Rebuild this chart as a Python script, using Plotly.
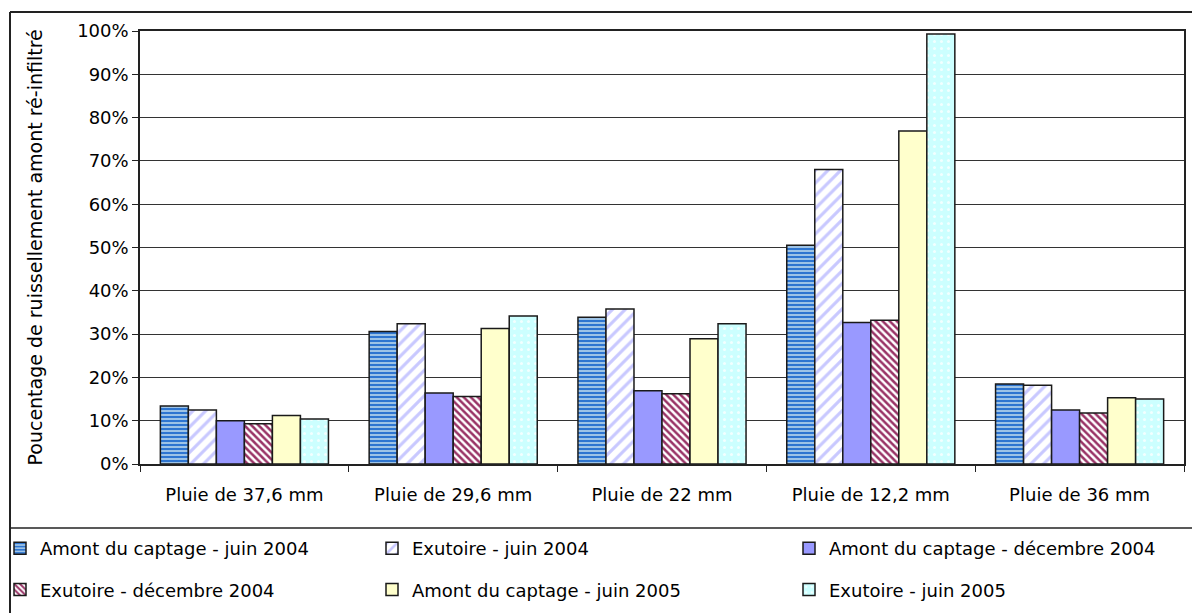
import plotly.graph_objects as go

# Rain events (x categories)
categories = ["Pluie de 37,6 mm", "Pluie de 29,6 mm", "Pluie de 22 mm",
              "Pluie de 12,2 mm", "Pluie de 36 mm"]

# Share of upstream runoff re-infiltrated (%)
amont_juin_2004 = [13.4, 30.6, 33.9, 50.5, 18.5]
exutoire_juin_2004 = [12.5, 32.4, 35.8, 68.0, 18.2]
amont_dec_2004 = [10.0, 16.4, 16.9, 32.7, 12.5]
exutoire_dec_2004 = [9.3, 15.6, 16.2, 33.2, 11.8]
amont_juin_2005 = [11.2, 31.3, 28.9, 76.9, 15.3]
exutoire_juin_2005 = [10.4, 34.2, 32.4, 99.3, 15.0]

series_names = ["Amont du captage - juin 2004", "Exutoire - juin 2004",
                "Amont du captage - décembre 2004", "Exutoire - décembre 2004",
                "Amont du captage - juin 2005", "Exutoire - juin 2005"]

y_ticks = [0, 10, 20, 30, 40, 50, 60, 70, 80, 90, 100]
y_tick_labels = ["0%", "10%", "20%", "30%", "40%", "50%",
                 "60%", "70%", "80%", "90%", "100%"]
y_title = "Poucentage de ruissellement amont ré-infiltré"

FONT = "DejaVu Sans"
W, H = 1192, 613
L, R, T, B = 140, 8, 31, 149
PW, PH = W - L - R, H - T - B

styles = [
    dict(color="#9DC3E6", pattern=dict(shape="-", fgcolor="#2E75D0", bgcolor="#9DC3E6",
                                       size=4, solidity=0.5, fillmode="replace")),
    dict(color="#FFFFFF", pattern=dict(shape="/", fgcolor="#C8C8FF", bgcolor="#FFFFFF",
                                       size=9, solidity=0.35, fillmode="replace")),
    dict(color="#9999FF"),
    dict(color="#FFFFFF", pattern=dict(shape="\\", fgcolor="#993366", bgcolor="#FFFFFF",
                                       size=5, solidity=0.5, fillmode="replace")),
    dict(color="#FFFFCC"),
    dict(color="#CCFFFF", pattern=dict(shape=".", fgcolor="#F2FFFF", bgcolor="#CCFFFF",
                                       size=7, solidity=0.15, fillmode="replace")),
]

values = [amont_juin_2004, exutoire_juin_2004, amont_dec_2004,
          exutoire_dec_2004, amont_juin_2005, exutoire_juin_2005]
legend_ids = ["legend", "legend2", "legend3", "legend", "legend2", "legend3"]

fig = go.Figure()
for i, (name, vals) in enumerate(zip(series_names, values)):
    marker = dict(line=dict(color="#1a1a1a", width=1.5), **styles[i])
    fig.add_trace(go.Bar(
        x=categories, y=vals, name=name, marker=marker,
        legend=legend_ids[i], legendgroup=f"g{i}",
    ))


def px_x(px):
    return (px - L) / PW


def px_y(py):
    return (H - B - py) / PH


legend_common = dict(
    xref="container", yref="container", xanchor="left", yanchor="top",
    orientation="v", traceorder="grouped", tracegroupgap=15,
    bgcolor="rgba(0,0,0,0)", borderwidth=0,
    font=dict(family=FONT, size=18, color="black"),
)
legend_top = 1 - 530 / H

fig.update_layout(
    width=W, height=H,
    margin=dict(l=L, r=R, t=T, b=B, autoexpand=False),
    paper_bgcolor="white", plot_bgcolor="white",
    barmode="group", bargap=0.195, bargroupgap=0,
    font=dict(family=FONT, size=18, color="black"),
    legend=dict(x=0, y=legend_top, **legend_common),
    legend2=dict(x=372 / W, y=legend_top, **legend_common),
    legend3=dict(x=789 / W, y=legend_top, **legend_common),
    xaxis=dict(
        type="category", automargin=False, showgrid=False, showline=True,
        linecolor="#222", linewidth=1.5, mirror=True, ticks="outside",
        tickson="boundaries", ticklen=6, tickcolor="#222", tickangle=0,
        ticklabelstandoff=14,
        tickfont=dict(family=FONT, size=18, color="black"),
    ),
    yaxis=dict(
        automargin=False, range=[0, 100], tickmode="array",
        tickvals=y_ticks, ticktext=y_tick_labels,
        showgrid=True, gridcolor="#333333", gridwidth=1,
        showline=True, linecolor="#222", linewidth=1.5, mirror=True,
        ticks="outside", ticklen=6, tickcolor="#222", zeroline=False,
        tickfont=dict(family=FONT, size=18, color="black"),
    ),
    annotations=[
        dict(text=y_title, textangle=-90, showarrow=False,
             xref="paper", yref="paper", x=px_x(34), y=0.5,
             xanchor="center", yanchor="middle",
             font=dict(family=FONT, size=19, color="black")),
    ],
    shapes=[
        # outer chart frame (left and top edges)
        dict(type="line", xref="paper", yref="paper", x0=px_x(10), x1=px_x(10),
             y0=px_y(12), y1=px_y(620), line=dict(color="#222", width=2)),
        dict(type="line", xref="paper", yref="paper", x0=px_x(10), x1=px_x(1200),
             y0=px_y(12), y1=px_y(12), line=dict(color="#222", width=2)),
        # separator above the legend
        dict(type="line", xref="paper", yref="paper", x0=px_x(10), x1=px_x(1200),
             y0=px_y(528), y1=px_y(528), line=dict(color="#222", width=1.5)),
    ],
)

fig.write_html("out.html")
